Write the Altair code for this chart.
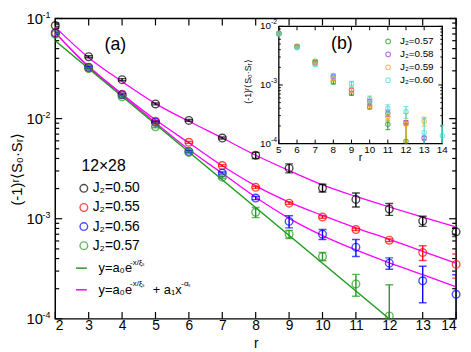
import altair as alt
import pandas as pd

# ---------------- data ----------------
r_main = [2, 3, 4, 5, 6, 7, 8, 9, 10, 11, 12, 13, 14]

corr_050 = [0.085, 0.0415, 0.0245, 0.0140, 0.0096, 0.0064, 0.0043, 0.0032, 0.00203, 0.00156, 0.00125, 0.00095, 0.00074]
err_050 = [0.002, 0.001, 0.0006, 0.0003, 0.0002, 0.00015, 0.0003, 0.00033, 0.00018, 0.00025, 0.00017, 0.00011, 0.000075]
corr_055 = [0.072, 0.032, 0.0175, 0.0094, 0.0058, 0.0034, 0.00206, 0.00143, 0.00104, 0.00078, 0.00061, 0.00046, 0.00035]
err_055 = [0.0015, 0.0007, 0.0004, 0.0002, 0.00012, 0.00007, 0.00005, 0.00004, 0.00003, 0.00002, 0.00002, 0.000077, 0.000095]
corr_056 = [0.071, 0.0326, 0.0173, 0.0092, 0.0047, 0.00286, 0.00161, 0.00094, 0.0007, 0.00052, 0.00036, 0.00024, 0.000176]
err_056 = [0.0015, 0.0007, 0.0004, 0.0002, 0.0001, 0.00007, 0.00006, 0.00013, 0.00008, 0.0001, 0.000047, 0.000095, 0.0001]
r_057 = [2, 3, 4, 5, 6, 7, 8, 9, 10, 11, 12]
corr_057 = [0.0693, 0.0316, 0.0165, 0.0083, 0.0046, 0.0026, 0.00116, 0.0007, 0.00042, 0.000223, 0.000107]
err_057 = [0.0015, 0.0007, 0.0004, 0.0002, 0.0001, 0.00008, 0.000135, 0.000065, 0.00004, 0.000055, 0.000112]

# fitted curves
fit_050 = [0.0820, 0.0406, 0.02343, 0.01413, 0.0094, 0.0064, 0.00431, 0.00303, 0.00218, 0.00167, 0.00131, 0.00104, 0.000827]
fit_055 = [0.0719, 0.0333, 0.0176, 0.00972, 0.00573, 0.00338, 0.00213, 0.001466, 0.001078, 0.00081, 0.000622, 0.000472, 0.000359]
fit_056 = [0.0719, 0.0326, 0.01722, 0.0091, 0.00491, 0.00284, 0.001637, 0.001009, 0.000679, 0.000488, 0.000363, 0.000276, 0.000209]
r_exp = [2, 12]
fit_exp_057 = [0.0598, 0.0001]

# inset (b)
r_inset = [5, 6, 7, 8, 9, 10, 11, 12, 13, 14]
ins_057 = [0.0076, 0.0046, 0.00254, 0.00112, 0.00072, 0.00042, 0.000213, 0.00011]
ins_057_err = [0.0003, 0.00015, 0.00008, 0.00008, 0.00005, 0.00003, 0.00004, 0.00011]
ins_058 = [0.0075, 0.0045, 0.00236, 0.0014, 0.00082, 0.00052, 0.00033, 0.000226, 0.000125]
ins_058_err = [0.0003, 0.00015, 0.00008, 0.00007, 0.00005, 0.00005, 0.00004, 0.00002, 0.00001]
ins_059 = [0.0075, 0.0045, 0.00236, 0.00128, 0.00082, 0.00046, 0.00029, 0.000215, 0.00024]
ins_059_err = [0.0003, 0.00015, 0.00008, 0.00007, 0.00008, 0.00006, 0.00005, 0.00011, 0.00004]
ins_060 = [0.0074, 0.0043, 0.00222, 0.00145, 0.00105, 0.00058, 0.0004, 0.00035, 0.000155, 0.000136]
ins_060_err = [0.0003, 0.00015, 0.0001, 0.0001, 0.0001, 0.00007, 0.00006, 0.00008, 0.00011, 0.00007]

y_decades = [1e-4, 1e-3, 1e-2, 1e-1]
y_exponents = ["-4", "-3", "-2", "-1"]
inset_decades = [1e-4, 1e-3, 1e-2]
inset_exponents = ["-4", "-3", "-2"]

legend_main = ["J\u2082=0.50", "J\u2082=0.55", "J\u2082=0.56", "J\u2082=0.57"]
legend_inset = ["J\u2082=0.57", "J\u2082=0.58", "J\u2082=0.59", "J\u2082=0.60"]

# ---------------- styles / layout ----------------
BLACK, RED, BLUE, GREEN = "#000000", "#ff0000", "#0000ff", "#1f9b1f"
MAGENTA = "#ff00ff"
PURPLE, ORANGE, CYAN = "#9b30d9", "#ffa500", "#40e0d0"
FONT = "Liberation Sans"
W, H = 407, 305
TOP = 8                     # page y of plot top = 8 + TOP
IL, IR, IT, IB = 227, 393, 8, 127  # inset plot box inside the main plot

minor_main = [k * 10.0 ** e for e in (-4, -3, -2) for k in range(2, 10)]
minor_inset = [k * 10.0 ** e for e in (-4, -3) for k in range(2, 10)]

xs_main = alt.Scale(domain=[2, 14], nice=False, zero=False)
ys_main = alt.Scale(type="log", domain=[1e-4, 1e-1], nice=False)
x_axis = alt.Axis(values=r_main, ticks=False, tickSize=0, domain=False, grid=False,
                  labelFontSize=14, labelPadding=0, labelColor="black", labelFont=FONT,
                  title="r", titleFontSize=14, titleFontWeight="normal",
                  titleY=29, titleBaseline="alphabetic",
                  titleColor="black", titleFont=FONT)
y_axis = alt.Axis(values=y_decades, labelExpr="'10'", ticks=False, tickSize=0, domain=False,
                  grid=False, labelFontSize=15, labelPadding=13, labelColor="black",
                  labelFont=FONT, title="(-1)\u02b3\u27e8S\u2080\u00b7S\u1d63\u27e9",
                  titleFontSize=15, titleFontWeight="normal", titlePadding=2,
                  titleColor="black", titleFont=FONT)


def MX(f):
    return alt.X(f"{f}:Q", scale=xs_main, axis=x_axis)


def MY(f):
    return alt.Y(f"{f}:Q", scale=ys_main, axis=y_axis)


xs_in = alt.Scale(domain=[5, 14], range=[IL, IR], nice=False, zero=False)
ys_in = alt.Scale(type="log", domain=[1e-4, 1e-2], range=[IB, IT], nice=False)


def IX(f):
    return alt.X(f"{f}:Q", scale=xs_in, axis=None)


def IY(f):
    return alt.Y(f"{f}:Q", scale=ys_in, axis=None)


def series_df(r, v, e, floor):
    lo = [a - b for a, b in zip(v, e)]
    return pd.DataFrame({"r": r[:len(v)], "v": v,
                         "lo": [max(x, floor) for x in lo],
                         "hi": [a + b for a, b in zip(v, e)],
                         "cut": [x <= floor for x in lo]})


def data_layers(df, color, X, Y, cap, size, sw):
    base = alt.Chart(df)
    return [
        base.mark_rule(color=color, strokeWidth=sw, clip=True).encode(x=X("r"), y=Y("lo"), y2="hi:Q"),
        alt.Chart(df[~df["cut"]]).mark_tick(color=color, orient="horizontal", size=cap, thickness=sw,
                                            clip=True).encode(x=X("r"), y=Y("lo")),
        base.mark_tick(color=color, orient="horizontal", size=cap, thickness=sw, clip=True).encode(x=X("r"), y=Y("hi")),
        base.mark_point(shape="circle", filled=False, color=color, size=size, strokeWidth=sw).encode(x=X("r"), y=Y("v")),
    ]


def txt(text, x, y, size, align="left", angle=0, color="black"):
    return alt.Chart(pd.DataFrame({"t": [text]})).mark_text(
        fontSize=size, align=align, baseline="middle", angle=angle, color=color, font=FONT
    ).encode(x=alt.value(x), y=alt.value(y), text="t:N")


# ---------------- main panel ----------------
main = []
xt = pd.DataFrame({"r": r_main})
main.append(alt.Chart(xt).mark_rule(color="black", strokeWidth=1.2).encode(x=MX("r"), y=alt.value(H), y2=alt.value(H - 7)))
main.append(alt.Chart(xt).mark_rule(color="black", strokeWidth=1.2).encode(x=MX("r"), y=alt.value(0), y2=alt.value(7)))
for vals, ln in ((y_decades, 7), (minor_main, 4)):
    yt = pd.DataFrame({"v": vals})
    main.append(alt.Chart(yt).mark_rule(color="black", strokeWidth=1.2).encode(y=MY("v"), x=alt.value(0), x2=alt.value(ln)))
    main.append(alt.Chart(yt).mark_rule(color="black", strokeWidth=1.2).encode(y=MY("v"), x=alt.value(W), x2=alt.value(W - ln)))
main.append(alt.Chart(pd.DataFrame({"v": y_decades, "e": y_exponents})).mark_text(
    align="left", baseline="middle", dy=-4, fontSize=9, font=FONT, color="black"
).encode(x=alt.value(-13), y=MY("v"), text="e:N"))

fits = pd.concat([
    pd.DataFrame({"r": r_main, "v": fit_050, "s": "0.50"}),
    pd.DataFrame({"r": r_main, "v": fit_055, "s": "0.55"}),
    pd.DataFrame({"r": r_main, "v": fit_056, "s": "0.56"}),
])
main.append(alt.Chart(fits).mark_line(color=MAGENTA, strokeWidth=1.3, interpolate="monotone").encode(
    x=MX("r"), y=MY("v"), detail="s:N"))
main.append(alt.Chart(pd.DataFrame({"r": r_exp, "v": fit_exp_057})).mark_line(
    color=GREEN, strokeWidth=1.3, clip=True).encode(x=MX("r"), y=MY("v")))

for r, v, e, c in ((r_main, corr_050, err_050, BLACK), (r_main, corr_055, err_055, RED),
                   (r_main, corr_056, err_056, BLUE), (r_057, corr_057, err_057, GREEN)):
    main += data_layers(series_df(r, v, e, 1e-6), c, MX, MY, 8, 60, 1.4)

main.append(txt("(a)", 61, 27, 18, align="center"))
main.append(txt("12\u00d728", 49, 150, 16, align="center"))
for i, (lab, c) in enumerate(zip(legend_main, (BLACK, RED, BLUE, GREEN))):
    yy = 172.5 + 19.4 * i
    main.append(alt.Chart(pd.DataFrame({"t": [lab]})).mark_point(
        shape="circle", filled=False, color=c, size=60, strokeWidth=1.4
    ).encode(x=alt.value(29), y=alt.value(yy)))
    main.append(txt(lab, 38, yy, 14))
for yy, c in ((253.5, GREEN), (275.5, MAGENTA)):
    main.append(alt.Chart(pd.DataFrame({"t": [c]})).mark_rule(color=c, strokeWidth=1.5).encode(
        x=alt.value(21), x2=alt.value(32), y=alt.value(yy)))
main.append(txt("y=a\u2080e", 44, 253.5, 13))
main.append(txt("-x/\u03be\u209b", 76, 248, 8))
main.append(txt("y=a\u2080e", 44, 275.5, 13))
main.append(txt("-x/\u03be\u209b", 76, 270, 8))
main.append(txt("+ a\u2081x", 99, 275.5, 13))
main.append(txt("-\u03b1\u209b", 128, 270, 8))

# ---------------- inset panel ----------------
inset = []
inset.append(alt.Chart(pd.DataFrame({"x0": [5], "x1": [14], "y0": [1e-4], "y1": [1e-2]})).mark_rect(
    fill="white", stroke="black", strokeWidth=1.3).encode(x=IX("x0"), x2="x1:Q", y=IY("y0"), y2="y1:Q"))
it_df = pd.DataFrame({"r": r_inset})
inset.append(alt.Chart(it_df).mark_rule(color="black", strokeWidth=1).encode(x=IX("r"), y=alt.value(IB), y2=alt.value(IB - 4)))
inset.append(alt.Chart(it_df).mark_rule(color="black", strokeWidth=1).encode(x=IX("r"), y=alt.value(IT), y2=alt.value(IT + 4)))
for vals, ln in ((inset_decades, 4), (minor_inset, 2)):
    yt = pd.DataFrame({"v": vals})
    inset.append(alt.Chart(yt).mark_rule(color="black", strokeWidth=1).encode(y=IY("v"), x=alt.value(IL), x2=alt.value(IL + ln)))
    inset.append(alt.Chart(yt).mark_rule(color="black", strokeWidth=1).encode(y=IY("v"), x=alt.value(IR), x2=alt.value(IR - ln)))
inset.append(alt.Chart(it_df).mark_text(fontSize=10, font=FONT, baseline="middle", color="black").encode(
    x=IX("r"), y=alt.value(IB + 7), text="r:Q"))
ydf = pd.DataFrame({"v": inset_decades, "e": inset_exponents})
inset.append(alt.Chart(ydf).mark_text(fontSize=10, font=FONT, align="right", baseline="middle", color="black").encode(
    x=alt.value(IL - 8), y=IY("v"), text=alt.value("10")))
inset.append(alt.Chart(ydf).mark_text(fontSize=7, font=FONT, align="left", baseline="middle", dy=-4, color="black").encode(
    x=alt.value(IL - 8), y=IY("v"), text="e:N"))
inset.append(txt("r", 310, IB + 15, 11, align="center"))
inset.append(txt("(-1)\u02b3\u27e8S\u2080\u00b7S\u1d63\u27e9", 196, 64, 9, align="center", angle=270))
inset.append(txt("(b)", 291, 26, 18, align="center"))

for v, e, c in ((ins_057, ins_057_err, GREEN), (ins_058, ins_058_err, PURPLE),
                (ins_059, ins_059_err, ORANGE), (ins_060, ins_060_err, CYAN)):
    inset += data_layers(series_df(r_inset, v, e, 1e-4), c, IX, IY, 5, 20, 1.1)

for i, (lab, c) in enumerate(zip(legend_inset, (GREEN, PURPLE, ORANGE, CYAN))):
    yy = 23.3 + 13.1 * i
    inset.append(alt.Chart(pd.DataFrame({"t": [lab]})).mark_point(
        shape="circle", filled=False, color=c, size=22, strokeWidth=1.1
    ).encode(x=alt.value(338), y=alt.value(yy)))
    inset.append(txt(lab, 350, yy, 10))

chart = alt.layer(alt.layer(*main), alt.layer(*inset)).resolve_scale(
    x="independent", y="independent"
).properties(
    width=W, height=H,
    padding={"left": 48, "top": TOP, "right": 7, "bottom": 31},
    autosize=alt.AutoSizeParams(type="none"),
).configure_view(stroke="black", strokeWidth=1.5)

chart.save("out.html", embed_options={"renderer": "svg", "actions": False})
